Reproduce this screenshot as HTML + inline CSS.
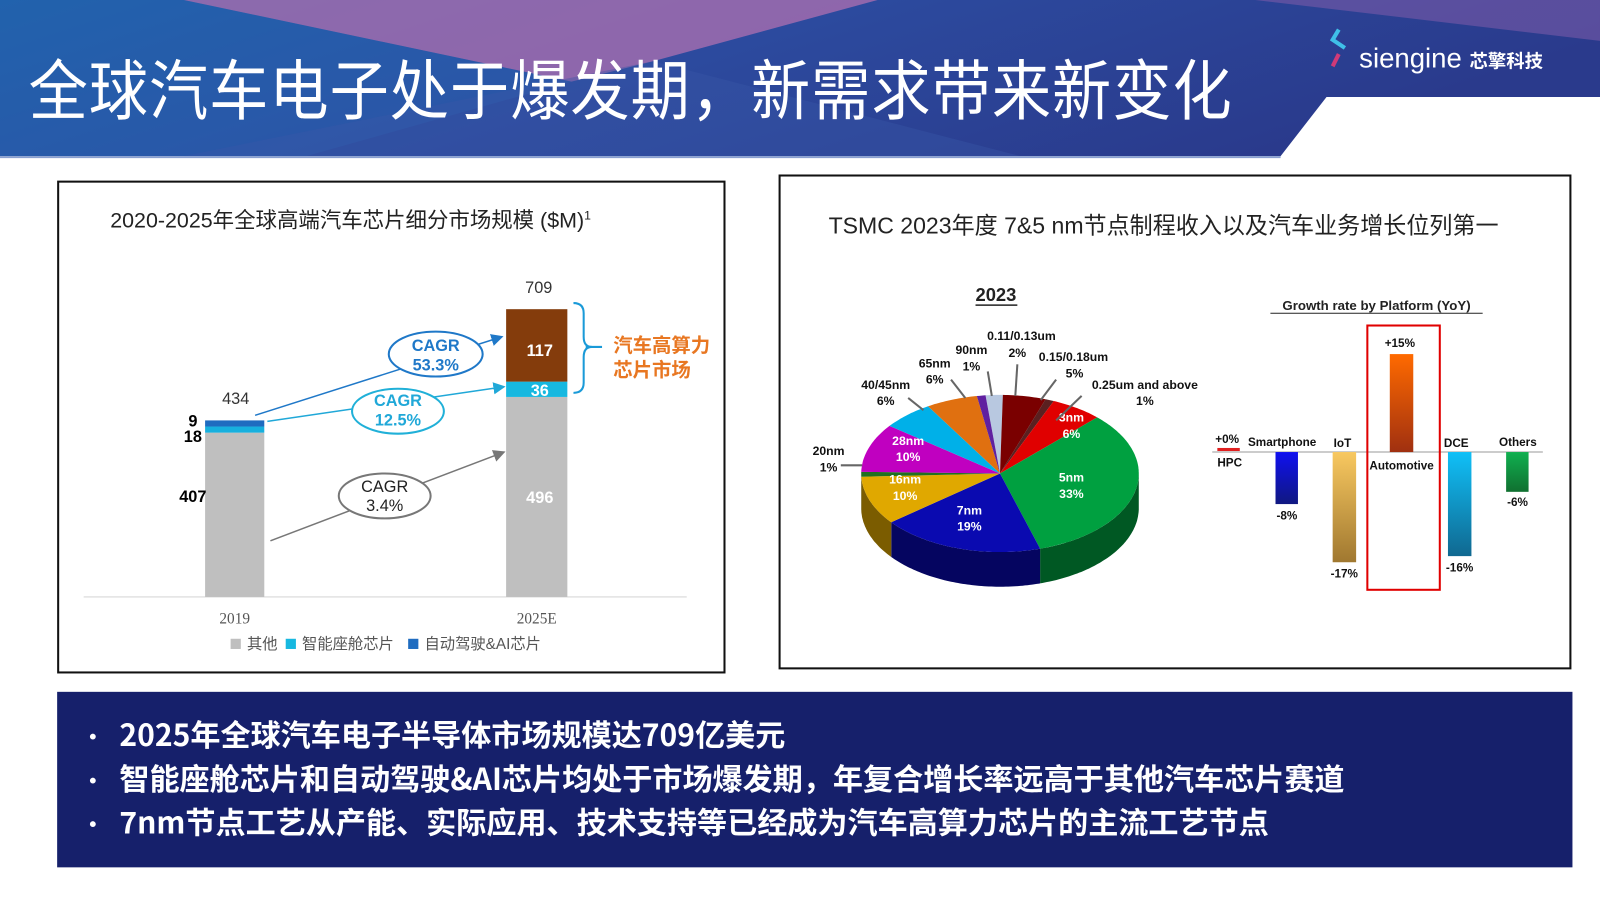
<!DOCTYPE html>
<html><head><meta charset="utf-8"><style>
html,body{margin:0;padding:0;width:1600px;height:900px;overflow:hidden;background:#fff;}
#s{position:absolute;left:0;top:0;width:1568px;height:882px;transform:scale(1.020408);transform-origin:0 0;font-family:"Liberation Sans","Noto Sans CJK SC",sans-serif;}
.a{position:absolute;}
</style></head><body><div id="s">
<svg class="a" style="left:0;top:0" width="1568" height="882">
<defs>
<linearGradient id="hg" x1="0" y1="0" x2="1" y2="0.3"><stop offset="0" stop-color="#1d5ea8"/><stop offset="0.5" stop-color="#2c4a9e"/><stop offset="1" stop-color="#2a3a8c"/></linearGradient>
</defs>
<polygon points="0,0 1568,0 1568,95 1300,95 1255,153 0,153" fill="url(#hg)"/>
<polygon points="180,0 860,0 640,60 560,80" fill="#b070b0" opacity="0.75"/>
<polygon points="0,0 180,0 560,80 300,153 0,153" fill="#2a6ab8" opacity="0.35"/>
<polygon points="1230,0 1568,0 1568,40" fill="#7a5aa8" opacity="0.6"/>
<polygon points="180,153 640,60 1000,153" fill="#3a58a8" opacity="0.4"/>
<line x1="0" y1="154" x2="1255" y2="154" stroke="#8aa0d0" stroke-width="2"/>
</svg>
<div class="a" style="left:28px;top:38px;font-size:58px;color:#fff;letter-spacing:1px;white-space:nowrap;font-family:'Noto Sans CJK SC',sans-serif;transform:scaleY(1.1);transform-origin:0 0;">全球汽车电子处于爆发期，新需求带来新变化</div>
<svg class="a" style="left:1300px;top:25px" width="40" height="45"><path d="M12 4 L6 14 L18 22" stroke="#3fc0e8" stroke-width="4" fill="none"/><path d="M12 28 L6 40" stroke="#d03a78" stroke-width="4"/></svg>
<div class="a" style="left:1332px;top:42px;font-size:27px;color:#fff;">siengine <span style="font-size:18px;font-weight:bold;font-family:'Noto Sans CJK SC',sans-serif;">芯擎科技</span></div>

<div class="a" style="left:56px;top:177px;width:651px;height:479px;border:2px solid #111;"></div>
<div class="a" style="left:763px;top:171px;width:773px;height:481px;border:2px solid #111;"></div>
<div class="a" style="left:108px;top:200px;font-size:21px;color:#222;white-space:nowrap;">2020-2025年全球高端汽车芯片细分市场规模 ($M)<sup style="font-size:12px">1</sup></div>
<div class="a" style="left:812px;top:203px;font-size:22.6px;color:#222;white-space:nowrap;">TSMC 2023年度 7&amp;5 nm节点制程收入以及汽车业务增长位列第一</div>

<svg class="a" style="left:0;top:0" width="1568" height="882" font-family="Liberation Sans, Noto Sans CJK SC, sans-serif">
<defs><marker id="m1" markerWidth="8" markerHeight="8" refX="7" refY="4" orient="auto"><path d="M0,0 L8,4 L0,8 z" fill="#1f78c8"/></marker>
<marker id="m2" markerWidth="8" markerHeight="8" refX="7" refY="4" orient="auto"><path d="M0,0 L8,4 L0,8 z" fill="#20a8d8"/></marker>
<marker id="m3" markerWidth="8" markerHeight="8" refX="7" refY="4" orient="auto"><path d="M0,0 L8,4 L0,8 z" fill="#777"/></marker></defs>
<line x1="82" y1="585" x2="673" y2="585" stroke="#d8d8d8"/>
<rect x="201" y="424" width="58" height="161" fill="#bfbfbf"/>
<rect x="201" y="418" width="58" height="6" fill="#17b0de"/>
<rect x="201" y="412" width="58" height="6" fill="#1f6cc0"/>
<rect x="496" y="389" width="60" height="196" fill="#bfbfbf"/>
<rect x="496" y="374" width="60" height="15" fill="#17b8e0"/>
<rect x="496" y="303" width="60" height="71" fill="#843c0c"/>
<g font-size="16" text-anchor="middle" fill="#333"><text x="231" y="396">434</text><text x="528" y="287">709</text></g>
<g font-size="16" font-weight="bold" text-anchor="middle"><text x="189" y="418">9</text><text x="189" y="433">18</text><text x="189" y="492">407</text>
<text x="529" y="349" fill="#fff">117</text><text x="529" y="388" fill="#fff">36</text><text x="529" y="493" fill="#fff">496</text></g>
<path d="M562 297 Q572 297 572 307 L572 330 Q572 340 580 340 Q572 340 572 350 L572 375 Q572 385 562 385" stroke="#1a9ad8" stroke-width="2" fill="none"/>
<line x1="574" y1="340" x2="590" y2="340" stroke="#1a9ad8" stroke-width="2"/>
<g font-size="19" font-weight="bold" fill="#e87722"><text x="601" y="345">汽车高算力</text><text x="601" y="369">芯片市场</text></g>
<line x1="250" y1="407" x2="492" y2="330" stroke="#1f78c8" stroke-width="1.5" marker-end="url(#m1)"/>
<line x1="262" y1="413" x2="494" y2="379" stroke="#20a8d8" stroke-width="1.5" marker-end="url(#m2)"/>
<line x1="265" y1="530" x2="494" y2="443" stroke="#777" stroke-width="1.5" marker-end="url(#m3)"/>
<ellipse cx="427" cy="347" rx="46" ry="22" fill="#fff" stroke="#1f78c8" stroke-width="2"/>
<ellipse cx="390" cy="403" rx="45" ry="22" fill="#fff" stroke="#20b0d8" stroke-width="2"/>
<ellipse cx="377" cy="486" rx="45" ry="22" fill="#fff" stroke="#777" stroke-width="2"/>
<g font-size="16" font-weight="bold" text-anchor="middle" fill="#1f78c8"><text x="427" y="344">CAGR</text><text x="427" y="363">53.3%</text></g>
<g font-size="16" font-weight="bold" text-anchor="middle" fill="#20a8d8"><text x="390" y="398">CAGR</text><text x="390" y="417">12.5%</text></g>
<g font-size="16" text-anchor="middle" fill="#222"><text x="377" y="482">CAGR</text><text x="377" y="501">3.4%</text></g>
<g font-size="15" fill="#555" text-anchor="middle" font-family="Liberation Serif, serif"><text x="230" y="611">2019</text><text x="526" y="611">2025E</text></g>
<g font-size="15" fill="#555"><rect x="226" y="626" width="10" height="10" fill="#bfbfbf"/><text x="242" y="636">其他</text>
<rect x="280" y="626" width="10" height="10" fill="#17b8e0"/><text x="296" y="636">智能座舱芯片</text>
<rect x="400" y="626" width="10" height="10" fill="#1f6cc0"/><text x="416" y="636">自动驾驶&amp;AI芯片</text></g>

<g id="pie"></g>
<text x="976" y="295" font-size="18" font-weight="bold" text-anchor="middle" fill="#222">2023</text>
<line x1="956" y1="299" x2="997" y2="299" stroke="#222" stroke-width="1.5"/>
<g font-size="12" font-weight="bold" fill="#111" text-anchor="middle">
<text x="1001" y="333">0.11/0.13um</text><text x="997" y="350">2%</text>
<text x="952" y="347">90nm</text><text x="952" y="363">1%</text>
<text x="916" y="360">65nm</text><text x="916" y="376">6%</text>
<text x="868" y="381">40/45nm</text><text x="868" y="397">6%</text>
<text x="1052" y="354">0.15/0.18um</text><text x="1053" y="370">5%</text>
<text x="1122" y="381">0.25um and above</text><text x="1122" y="397">1%</text>
<text x="812" y="446">20nm</text><text x="812" y="462">1%</text>
<text x="890" y="436" fill="#fff">28nm</text><text x="890" y="452" fill="#fff">10%</text>
<text x="887" y="474" fill="#fff">16nm</text><text x="887" y="490" fill="#fff">10%</text>
<text x="950" y="504" fill="#fff">7nm</text><text x="950" y="520" fill="#fff">19%</text>
<text x="1050" y="472" fill="#fff">5nm</text><text x="1050" y="488" fill="#fff">33%</text>
<text x="1050" y="413" fill="#fff">3nm</text><text x="1050" y="429" fill="#fff">6%</text>
</g>
<g stroke="#666" stroke-width="2" fill="none"><line x1="932" y1="372" x2="946" y2="390"/><line x1="968" y1="364" x2="972" y2="388"/><line x1="997" y1="357" x2="995" y2="388"/><line x1="1035" y1="372" x2="1020" y2="392"/><line x1="1060" y1="388" x2="1035" y2="412"/><line x1="890" y1="390" x2="905" y2="402"/><line x1="824" y1="456" x2="845" y2="456"/></g>

<text x="1349" y="304" font-size="13" font-weight="bold" text-anchor="middle" fill="#222">Growth rate by Platform (YoY)</text>
<line x1="1245" y1="307" x2="1453" y2="307" stroke="#222"/>
<line x1="1188" y1="443" x2="1512" y2="443" stroke="#ccc" stroke-width="2"/>
<rect x="1193" y="439" width="22" height="3" fill="#e02020"/>
<defs>
<linearGradient id="g1" x1="0" y1="0" x2="0" y2="1"><stop offset="0" stop-color="#1010f0"/><stop offset="1" stop-color="#101880"/></linearGradient>
<linearGradient id="g2" x1="0" y1="0" x2="0" y2="1"><stop offset="0" stop-color="#f8c860"/><stop offset="1" stop-color="#a07830"/></linearGradient>
<linearGradient id="g3" x1="0" y1="0" x2="0" y2="1"><stop offset="0" stop-color="#ff6a00"/><stop offset="1" stop-color="#a03010"/></linearGradient>
<linearGradient id="g4" x1="0" y1="0" x2="0" y2="1"><stop offset="0" stop-color="#10c0f8"/><stop offset="1" stop-color="#106890"/></linearGradient>
<linearGradient id="g5" x1="0" y1="0" x2="0" y2="1"><stop offset="0" stop-color="#10b050"/><stop offset="1" stop-color="#107030"/></linearGradient>
</defs>
<rect x="1250" y="443" width="22" height="51" fill="url(#g1)"/>
<rect x="1306" y="443" width="23" height="108" fill="url(#g2)"/>
<rect x="1362" y="347" width="23" height="96" fill="url(#g3)"/>
<rect x="1419" y="443" width="23" height="102" fill="url(#g4)"/>
<rect x="1476" y="443" width="22" height="39" fill="url(#g5)"/>
<rect x="1340" y="319" width="71" height="259" fill="none" stroke="#e00000" stroke-width="2"/>
<g font-size="11.5" font-weight="bold" fill="#111">
<text x="1191" y="434">+0%</text><text x="1193" y="457">HPC</text>
<text x="1223" y="437">Smartphone</text><text x="1307" y="438">IoT</text>
<text x="1415" y="438">DCE</text><text x="1469" y="437">Others</text>
<text x="1342" y="460">Automotive</text><text x="1357" y="340">+15%</text>
<text x="1251" y="509">-8%</text><text x="1304" y="566">-17%</text><text x="1417" y="560">-16%</text><text x="1477" y="496">-6%</text>
</g>

<rect x="56" y="678" width="1485" height="172" fill="#16206b"/>
<g fill="#fff" font-size="29.5" font-weight="bold" font-family="Noto Sans CJK SC, sans-serif">
<text x="80" y="730" font-size="22">•</text><text x="117" y="731">2025年全球汽车电子半导体市场规模达709亿美元</text>
<text x="80" y="773" font-size="22">•</text><text x="117" y="774">智能座舱芯片和自动驾驶&amp;AI芯片均处于市场爆发期，年复合增长率远高于其他汽车芯片赛道</text>
<text x="80" y="816" font-size="22">•</text><text x="117" y="817">7nm节点工艺从产能、实际应用、技术支持等已经成为汽车高算力芯片的主流工艺节点</text>
</g>
</svg>
</div>
<script>
(function(){
var cx=980,cy=464,rx=136,ry=77,d=34;
var s=[[2,'#b8c8e0'],[5,'#7a0000'],[1,'#5a2020'],[6,'#e00000'],[33,'#00a040'],[19,'#0a0ab0'],[10,'#e0a800'],[1,'#207020'],[10,'#c000c0'],[6,'#00b0e8'],[6,'#e07010'],[1,'#6020a0']];
var g=document.getElementById('pie');
function P(t,o){var r=t*Math.PI/180;return (cx+rx*Math.sin(r)).toFixed(1)+','+(cy-ry*Math.cos(r)+(o||0)).toFixed(1);}
function dk(c){var n=parseInt(c.slice(1),16);var r=(n>>16)*0.55|0,gg=((n>>8)&255)*0.55|0,b=(n&255)*0.55|0;return 'rgb('+r+','+gg+','+b+')';}
var t=-6,sides='',tops='';
s.forEach(function(x){var t1=t,t2=t+x[0]*3.6;t=t2;
var a=Math.max(t1,90),b=Math.min(t2,270);
if(a<b){var pts=[];for(var k=a;k<=b;k+=1)pts.push(P(k));pts.push(P(b));var bt=[];for(var k=b;k>=a;k-=1)bt.push(P(k,d));bt.push(P(a,d));sides+='<polygon points="'+pts.concat(bt).join(' ')+'" fill="'+dk(x[1])+'"/>';}
var pp=[cx+','+cy];for(var k=t1;k<=t2;k+=1)pp.push(P(k));pp.push(P(t2));tops+='<polygon points="'+pp.join(' ')+'" fill="'+x[1]+'"/>';});
g.innerHTML=sides+tops;
})();
</script>
</body></html>
